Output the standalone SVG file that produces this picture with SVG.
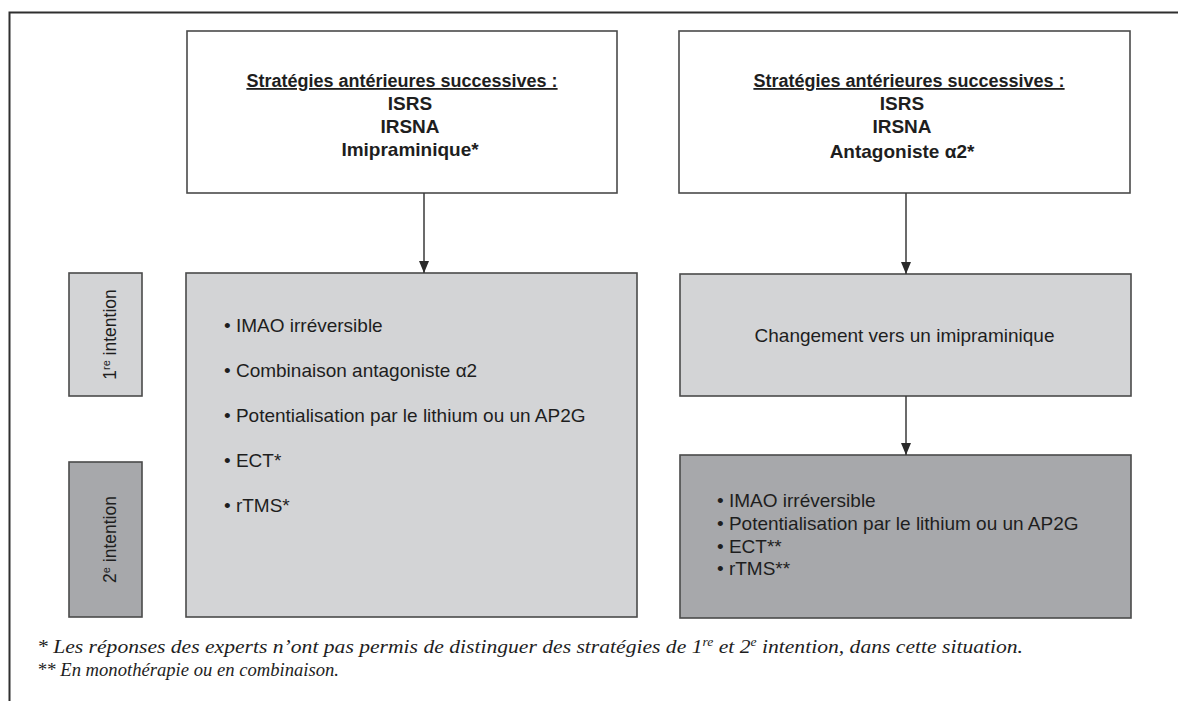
<svg xmlns="http://www.w3.org/2000/svg" width="1178" height="701" viewBox="0 0 1178 701">
<style>
  .frame { fill: none; stroke: #2f2f2f; stroke-width: 2; }
  .box { stroke: #4a4a4a; stroke-width: 1.6; }
  .white { fill: #ffffff; }
  .light { fill: #d3d4d6; }
  .dark { fill: #a7a8ab; }
  .t { font-family: "Liberation Sans", Arial, sans-serif; fill: #1e1e1e; }
  .head { font-size: 18px; font-weight: bold; text-decoration: underline; }
  .sub { font-size: 19px; font-weight: bold; }
  .item { font-size: 19px; }
  .side { font-size: 17.5px; }
  .foot { font-family: "Liberation Serif", "Times New Roman", serif; font-style: italic; font-size: 19px; fill: #1e1e1e; }
  .conn { stroke: #3a3a3a; stroke-width: 1.5; fill: none; }
</style>
<defs>
  <marker id="arrow" markerWidth="12" markerHeight="10" refX="12" refY="5" orient="auto" markerUnits="userSpaceOnUse">
    <path d="M0,0 L12,5 L0,10 Z" fill="#2a2a2a"/>
  </marker>
</defs>
<rect width="1178" height="701" fill="#ffffff"/>
<path class="frame" d="M9.5,701 L9.5,12.5 L1178,12.5"/>

<g id="top-left">
  <rect class="box white" x="187" y="31" width="430" height="162"/>
  <text class="t head" x="402" y="87" text-anchor="middle">Stratégies antérieures successives :</text>
  <text class="t sub" x="410" y="110" text-anchor="middle">ISRS</text>
  <text class="t sub" x="410" y="133" text-anchor="middle">IRSNA</text>
  <text class="t sub" x="410" y="156" text-anchor="middle">Imipraminique*</text>
</g>

<g id="top-right">
  <rect class="box white" x="679" y="31" width="451" height="162"/>
  <text class="t head" x="909" y="87" text-anchor="middle">Stratégies antérieures successives :</text>
  <text class="t sub" x="902" y="110" text-anchor="middle">ISRS</text>
  <text class="t sub" x="902" y="133" text-anchor="middle">IRSNA</text>
  <text class="t sub" x="902" y="158" text-anchor="middle">Antagoniste α2*</text>
</g>

<g id="label-1re">
  <rect class="box light" x="69" y="273" width="73" height="123"/>
  <text class="t side" transform="translate(116,334.5) rotate(-90)" text-anchor="middle">1<tspan font-size="11" dy="-6">re</tspan><tspan dy="6"> intention</tspan></text>
</g>

<g id="label-2e">
  <rect class="box dark" x="69" y="462" width="73" height="155"/>
  <text class="t side" transform="translate(116,539.5) rotate(-90)" text-anchor="middle">2<tspan font-size="11" dy="-6">e</tspan><tspan dy="6"> intention</tspan></text>
</g>

<g id="left-options">
  <rect class="box light" x="186" y="273" width="451" height="344"/>
  <text class="t item" x="224" y="332">• IMAO irréversible</text>
  <text class="t item" x="224" y="377">• Combinaison antagoniste α2</text>
  <text class="t item" x="224" y="422">• Potentialisation par le lithium ou un AP2G</text>
  <text class="t item" x="224" y="467">• ECT*</text>
  <text class="t item" x="224" y="512">• rTMS*</text>
</g>

<g id="right-first">
  <rect class="box light" x="680" y="274" width="451" height="122"/>
  <text class="t item" x="904.5" y="342" text-anchor="middle">Changement vers un imipraminique</text>
</g>

<g id="right-second">
  <rect class="box dark" x="680" y="455" width="451" height="163"/>
  <text class="t item" x="717" y="507">• IMAO irréversible</text>
  <text class="t item" x="717" y="530">• Potentialisation par le lithium ou un AP2G</text>
  <text class="t item" x="717" y="553">• ECT**</text>
  <text class="t item" x="717" y="575">• rTMS**</text>
</g>

<g id="connectors">
  <line class="conn" x1="424" y1="193" x2="424" y2="273" marker-end="url(#arrow)"/>
  <line class="conn" x1="906" y1="193" x2="906" y2="274" marker-end="url(#arrow)"/>
  <line class="conn" x1="906" y1="396" x2="906" y2="455" marker-end="url(#arrow)"/>
</g>

<g id="footnotes">
  <text class="foot" x="37" y="653" textLength="986" lengthAdjust="spacingAndGlyphs">* Les réponses des experts n’ont pas permis de distinguer des stratégies de 1<tspan font-size="12" dy="-7">re</tspan><tspan dy="7"> et 2</tspan><tspan font-size="12" dy="-7">e</tspan><tspan dy="7"> intention, dans cette situation.</tspan></text>
  <text class="foot" x="37" y="676" textLength="302" lengthAdjust="spacingAndGlyphs">** En monothérapie ou en combinaison.</text>
</g>
</svg>
